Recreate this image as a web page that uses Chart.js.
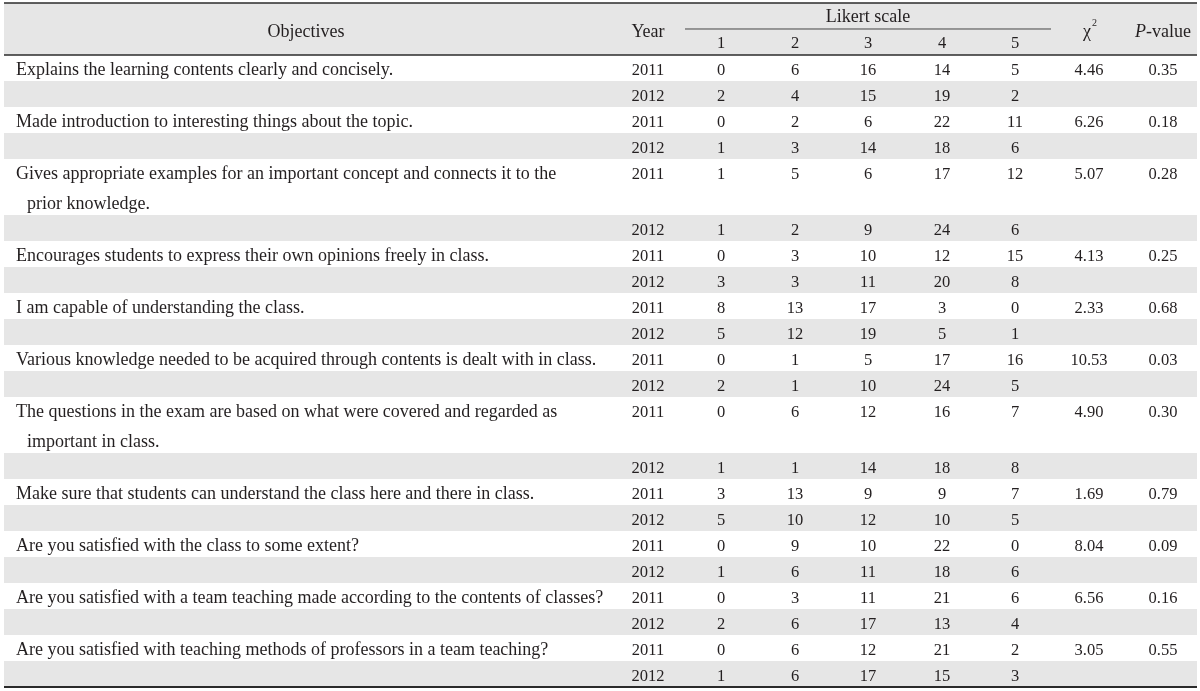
<!DOCTYPE html>
<html>
<head>
<meta charset="utf-8">
<script src="https://cdn.jsdelivr.net/npm/chart.js@4/dist/chart.umd.min.js"></script>
<style>
html,body{margin:0;padding:0;background:#ffffff;}
#wrap{width:1200px;height:691px;position:relative;}
</style>
</head>
<body>
<div id="wrap"><canvas id="c" width="1200" height="691"></canvas></div>
<script>
// ---------------- DATA ----------------
const objectives = [
  ["Explains the learning contents clearly and concisely."],
  ["Made introduction to interesting things about the topic."],
  ["Gives appropriate examples for an important concept and connects it to the", "prior knowledge."],
  ["Encourages students to express their own opinions freely in class."],
  ["I am capable of understanding the class."],
  ["Various knowledge needed to be acquired through contents is dealt with in class."],
  ["The questions in the exam are based on what were covered and regarded as", "important in class."],
  ["Make sure that students can understand the class here and there in class."],
  ["Are you satisfied with the class to some extent?"],
  ["Are you satisfied with a team teaching made according to the contents of classes?"],
  ["Are you satisfied with teaching methods of professors in a team teaching?"]
];
const years = ["2011", "2012"];
const likertLevels = ["1", "2", "3", "4", "5"];
const counts2011 = [
  [0, 6, 16, 14, 5],
  [0, 2, 6, 22, 11],
  [1, 5, 6, 17, 12],
  [0, 3, 10, 12, 15],
  [8, 13, 17, 3, 0],
  [0, 1, 5, 17, 16],
  [0, 6, 12, 16, 7],
  [3, 13, 9, 9, 7],
  [0, 9, 10, 22, 0],
  [0, 3, 11, 21, 6],
  [0, 6, 12, 21, 2]
];
const counts2012 = [
  [2, 4, 15, 19, 2],
  [1, 3, 14, 18, 6],
  [1, 2, 9, 24, 6],
  [3, 3, 11, 20, 8],
  [5, 12, 19, 5, 1],
  [2, 1, 10, 24, 5],
  [1, 1, 14, 18, 8],
  [5, 10, 12, 10, 5],
  [1, 6, 11, 18, 6],
  [2, 6, 17, 13, 4],
  [1, 6, 17, 15, 3]
];
const chiSquare = ["4.46", "6.26", "5.07", "4.13", "2.33", "10.53", "4.90", "1.69", "8.04", "6.56", "3.05"];
const pValues = ["0.35", "0.18", "0.28", "0.25", "0.68", "0.03", "0.30", "0.79", "0.09", "0.16", "0.55"];

// ---------------- LAYOUT ----------------
const FAMILY = '"Liberation Serif", "Times New Roman", serif';
const WORD_FONT = `18px ${FAMILY}`;
const NUM_FONT = `16.5px ${FAMILY}`;
const INK = '#231f20';
const BAND = '#e6e6e6';
const RULE = '#2b2b2b';
const TABLE_LEFT = 4, TABLE_RIGHT = 1197;
const OBJ_LEFT = 16, OBJ_INDENT = 27, OBJ_HEAD = 306;
const YEAR_X = 648;
const LIKERT_X = [721, 795, 868, 942, 1015];
const LIKERT_RULE = [685, 1051];
const CHI_X = 1089, P_X = 1163;
const HEADER_UNITS = 2;
const WRAP_UNITS = 2.154;
const BASE = 0.76;      // text baseline offset within a row (row units)
const LINE_STEP = 1.17; // line step for wrapped objectives

const rows = [];
let cursor = HEADER_UNITS;
objectives.forEach((lines, i) => {
  const h = lines.length > 1 ? WRAP_UNITS : 1;
  rows.push({ top: cursor, height: h, lines, year: years[0], counts: counts2011[i], chi: chiSquare[i], p: pValues[i], shaded: false });
  cursor += h;
  rows.push({ top: cursor, height: 1, lines: [], year: years[1], counts: counts2012[i], chi: '', p: '', shaded: true });
  cursor += 1;
});
const TOTAL_UNITS = cursor;

// cell datasets (each cell is a point placed through the scales; text drawn at the element)
function cellSet(label, pts, font, align) {
  return { label, data: pts, font, align: align || 'center', pointRadius: 0, pointHoverRadius: 0, showLine: false, borderWidth: 0 };
}
const datasets = [];
datasets.push(cellSet('Objectives', rows.flatMap(r => r.lines.map((t, k) => ({ x: k ? OBJ_INDENT : OBJ_LEFT, y: r.top + BASE + k * LINE_STEP, text: t }))), WORD_FONT, 'left'));
datasets.push(cellSet('Year', rows.map(r => ({ x: YEAR_X, y: r.top + BASE, text: r.year })), NUM_FONT));
likertLevels.forEach((lv, j) => {
  datasets.push(cellSet(lv, rows.map(r => ({ x: LIKERT_X[j], y: r.top + BASE, text: String(r.counts[j]) })), NUM_FONT));
});
datasets.push(cellSet('chi', rows.filter(r => r.chi).map(r => ({ x: CHI_X, y: r.top + BASE, text: r.chi })), NUM_FONT));
datasets.push(cellSet('p', rows.filter(r => r.p).map(r => ({ x: P_X, y: r.top + BASE, text: r.p })), NUM_FONT));

const tablePlugin = {
  id: 'tablePlugin',
  beforeDatasetsDraw(chart) {
    const { ctx, scales: { x, y } } = chart;
    const X = v => x.getPixelForValue(v), Y = v => y.getPixelForValue(v);
    ctx.save();
    ctx.fillStyle = BAND;
    ctx.fillRect(X(TABLE_LEFT), Y(0), X(TABLE_RIGHT) - X(TABLE_LEFT), Y(HEADER_UNITS) - Y(0));
    rows.forEach(r => {
      if (r.shaded) ctx.fillRect(X(TABLE_LEFT), Y(r.top), X(TABLE_RIGHT) - X(TABLE_LEFT), Y(r.top + r.height) - Y(r.top));
    });
    ctx.strokeStyle = RULE;
    const hline = (u, x0, x1, w) => { ctx.lineWidth = w; ctx.beginPath(); ctx.moveTo(X(x0), Y(u)); ctx.lineTo(X(x1), Y(u)); ctx.stroke(); };
    hline(0, TABLE_LEFT, TABLE_RIGHT, 1.5);
    hline(HEADER_UNITS, TABLE_LEFT, TABLE_RIGHT, 1.5);
    hline(TOTAL_UNITS, TABLE_LEFT, TABLE_RIGHT, 2);
    ctx.strokeStyle = '#444';
    hline(1.0, LIKERT_RULE[0], LIKERT_RULE[1], 1);

    // header texts
    ctx.fillStyle = INK;
    ctx.font = WORD_FONT;
    ctx.textAlign = 'center';
    ctx.textBaseline = 'alphabetic';
    ctx.fillText('Objectives', X(OBJ_HEAD), Y(1.29));
    ctx.fillText('Year', X(YEAR_X), Y(1.29));
    ctx.fillText('Likert scale', X((LIKERT_RULE[0] + LIKERT_RULE[1]) / 2), Y(0.75));
    ctx.font = NUM_FONT;
    likertLevels.forEach((lv, j) => ctx.fillText(lv, X(LIKERT_X[j]), Y(1.74)));
    // chi-square
    ctx.font = WORD_FONT;
    ctx.fillText('\u03C7', X(CHI_X - 2), Y(1.29));
    ctx.font = `10px ${FAMILY}`;
    ctx.textAlign = 'left';
    ctx.fillText('2', X(CHI_X + 3), Y(0.9));
    // P-value
    ctx.font = `italic 18px ${FAMILY}`;
    const wP = ctx.measureText('P').width;
    ctx.font = WORD_FONT;
    const wV = ctx.measureText('-value').width;
    const startP = X(P_X) - (wP + wV) / 2;
    ctx.font = `italic 18px ${FAMILY}`;
    ctx.fillText('P', startP, Y(1.29));
    ctx.font = WORD_FONT;
    ctx.fillText('-value', startP + wP, Y(1.29));
    ctx.restore();
  },
  afterDatasetsDraw(chart) {
    const { ctx } = chart;
    ctx.save();
    ctx.fillStyle = INK;
    ctx.textBaseline = 'alphabetic';
    chart.data.datasets.forEach((ds, di) => {
      const meta = chart.getDatasetMeta(di);
      ctx.font = ds.font;
      ctx.textAlign = ds.align;
      meta.data.forEach((el, k) => {
        ctx.fillText(ds.data[k].text, el.x, el.y);
      });
    });
    ctx.restore();
  }
};

new Chart(document.getElementById('c'), {
  type: 'scatter',
  data: { datasets },
  options: {
    responsive: false,
    animation: false,
    devicePixelRatio: 1,
    layout: { padding: { top: 3, bottom: 4, left: 0, right: 0 } },
    plugins: { legend: { display: false }, tooltip: { enabled: false } },
    events: [],
    scales: {
      x: { type: 'linear', min: 0, max: 1200, display: false },
      y: { type: 'linear', min: 0, max: TOTAL_UNITS, reverse: true, display: false }
    }
  },
  plugins: [tablePlugin]
});
</script>
</body>
</html>
